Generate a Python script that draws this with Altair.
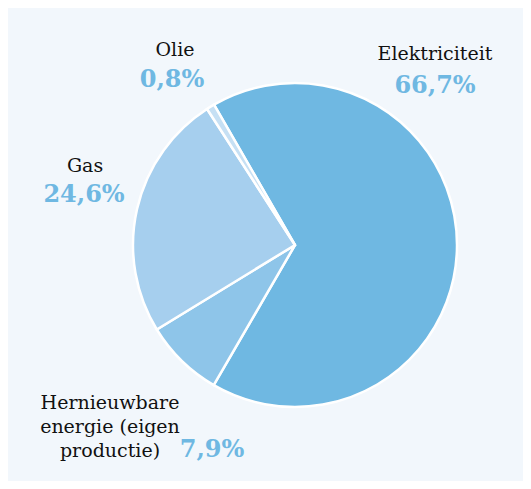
import math
import altair as alt
import pandas as pd

categories = ["Elektriciteit", "Hernieuwbare energie (eigen productie)", "Gas", "Olie"]
values = [66.7, 7.9, 24.6, 0.8]
colors = ["#6fb8e2", "#8ec5e9", "#a6cfee", "#c6e0f4"]
pct_labels = ["66,7%", "7,9%", "24,6%", "0,8%"]

df = pd.DataFrame({"cat": categories, "value": values, "ord": list(range(len(categories)))})

start = math.radians(-30)
BG = "#f2f7fc"
FONT = "DejaVu Serif"
BLUE = "#6fb8e2"

pie = alt.Chart(df).mark_arc(stroke="white", strokeWidth=2.5, outerRadius=162).encode(
    theta=alt.Theta("value:Q", stack=True, scale=alt.Scale(range=[start, start + 2 * math.pi])),
    order=alt.Order("ord:Q"),
    color=alt.Color("cat:N", scale=alt.Scale(domain=categories, range=colors), legend=None),
    x=alt.value(287),
    y=alt.value(237),
)

def name_text(lines, x, y):
    return alt.Chart(pd.DataFrame({"t": [lines]})).mark_text(
        font=FONT, fontSize=19, color="#111111", align="center", baseline="alphabetic", lineHeight=24
    ).encode(text="t", x=alt.value(x), y=alt.value(y))

def pct_text(t, x, y):
    return alt.Chart(pd.DataFrame({"t": [t]})).mark_text(
        font=FONT, fontSize=24, fontWeight="bold", color=BLUE, align="center", baseline="alphabetic"
    ).encode(text="t", x=alt.value(x), y=alt.value(y))

layers = [
    pie,
    name_text("Olie", 167, 48), pct_text(pct_labels[3], 164, 79),
    name_text("Elektriciteit", 427, 52), pct_text(pct_labels[0], 427, 85),
    name_text("Gas", 77, 164), pct_text(pct_labels[2], 76, 194),
    name_text(["Hernieuwbare", "energie (eigen", "productie)"], 102, 401), pct_text(pct_labels[1], 204, 449),
]

chart = alt.layer(*layers).properties(
    width=515, height=473, background=BG, padding=0,
    autosize=alt.AutoSizeParams(type="none"),
).configure_view(stroke=None)

chart.save("out.html", embed_options={"renderer": "svg", "actions": False})
